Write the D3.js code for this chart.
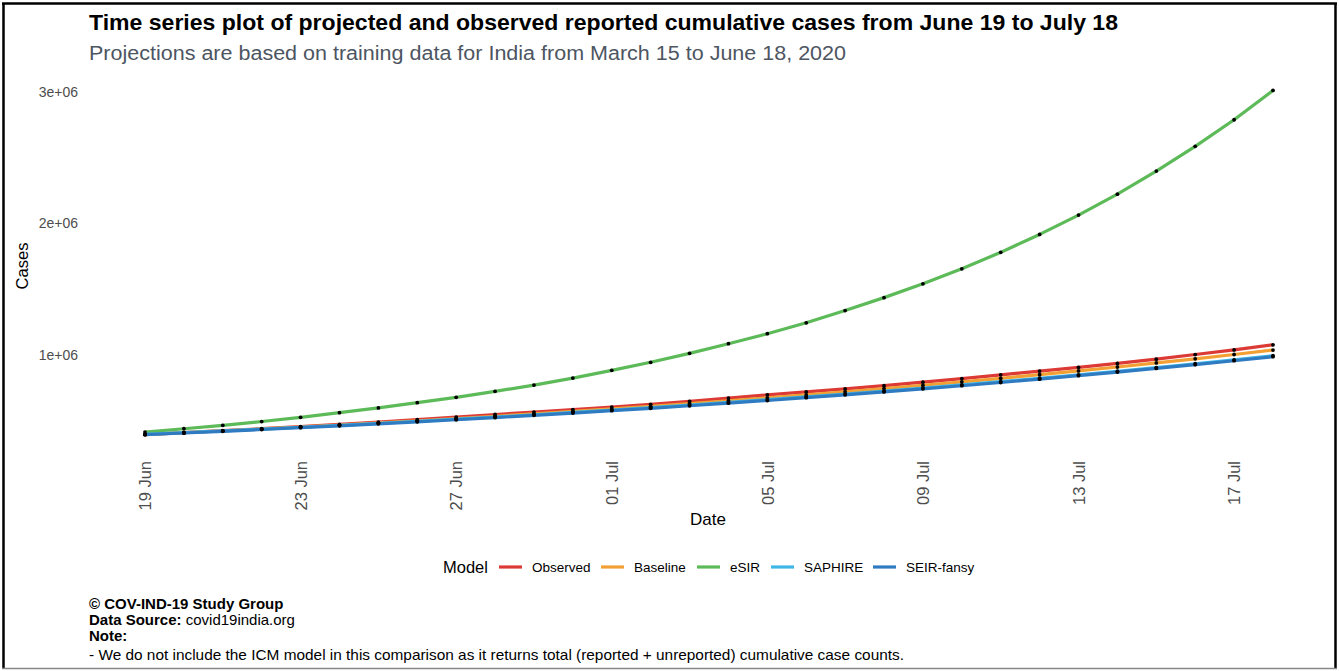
<!DOCTYPE html>
<html>
<head>
<meta charset="utf-8">
<script src="https://cdn.jsdelivr.net/npm/d3@7"></script>
<style>
  html, body { margin: 0; padding: 0; background: #fff; }
  svg { display: block; font-family: "Liberation Sans", Arial, Helvetica, sans-serif; }
</style>
</head>
<body>
<svg id="chart" width="1339" height="671"></svg>
<script>
// ---- Data ----
const startDate = "2020-06-19";
const nDays = 30;
const models = ["Observed", "Baseline", "eSIR", "SAPHIRE", "SEIR-fansy"];
const colors = ["#DC3A35", "#F2A033", "#5DBA58", "#3EB6E6", "#2F7BC2"];

const observed = [395812, 410451, 425282, 440450, 456183, 473105, 490401, 508953, 528859, 548318,
  566840, 585481, 604641, 625544, 648315, 673165, 697413, 719664, 742417, 767296,
  793802, 820916, 849553, 878254, 906752, 936181, 968857, 1003832, 1038716, 1077781];
const baseline = [397000, 410400, 424200, 438500, 453300, 468600, 484400, 500700, 517600, 535000,
  553000, 571700, 590900, 610800, 631400, 652700, 674700, 697400, 720900, 745200,
  770300, 796300, 823100, 850800, 879500, 909100, 939800, 971400, 1004200, 1038000];
const esir = [415000, 440000, 466000, 495000, 527000, 562000, 598000, 638000, 679000, 724000,
  772000, 825000, 884000, 945000, 1013000, 1086000, 1162000, 1245000, 1338000, 1436000,
  1541000, 1655000, 1780000, 1916000, 2063000, 2222000, 2397000, 2585000, 2787000, 3010000];
const saphire = [397000, 410000, 423500, 437400, 451700, 466300, 481500, 497000, 513000, 529500,
  546600, 564200, 582300, 601000, 620300, 640200, 660700, 681900, 703700, 726200,
  749400, 773400, 798100, 823600, 849900, 877000, 905000, 933900, 963700, 994500];
const seirfansy = [395000, 407700, 420800, 434300, 448200, 462600, 477500, 492800, 508600, 524900,
  541800, 559200, 577100, 595600, 614700, 634500, 654800, 675900, 697600, 719900,
  743000, 766900, 791500, 816900, 843200, 870200, 898200, 927000, 956800, 987500];
const seriesValues = [observed, baseline, esir, saphire, seirfansy];

const yTicks = [1e6, 2e6, 3e6];
const yTickLabels = ["1e+06", "2e+06", "3e+06"];
const xTickDays = [0, 4, 8, 12, 16, 20, 24, 28];

const titleText = "Time series plot of projected and observed reported cumulative cases from June 19 to July 18";
const subtitleText = "Projections are based on training data for India from March 15 to June 18, 2020";

// ---- Setup ----
const svg = d3.select("#chart");
const parse = d3.utcParse("%Y-%m-%d");
const d0 = parse(startDate);
const dates = d3.range(nDays).map(i => d3.utcDay.offset(d0, i));

const x = d3.scaleUtc().domain([dates[0], dates[nDays - 1]]).range([145, 1273]);
const y = d3.scaleLinear().domain([0, 3e6]).range([486.7, 91.7]);

// Frame
svg.append("line").attr("x1", 3.5).attr("y1", 3).attr("x2", 3.5).attr("y2", 669).attr("stroke", "#000").attr("stroke-width", 2.5);
svg.append("line").attr("x1", 2).attr("y1", 3.5).attr("x2", 1337).attr("y2", 3.5).attr("stroke", "#000").attr("stroke-width", 2.5);
svg.append("line").attr("x1", 1335.5).attr("y1", 3).attr("x2", 1335.5).attr("y2", 669).attr("stroke", "#000").attr("stroke-width", 2.5);
svg.append("line").attr("x1", 2).attr("y1", 668.5).attr("x2", 1337).attr("y2", 668.5).attr("stroke", "#888").attr("stroke-width", 1.5);

// Titles
svg.append("text").attr("x", 89).attr("y", 30).attr("font-size", 21.5).attr("font-weight", "bold").attr("fill", "#000")
  .attr("textLength", 1029).attr("lengthAdjust", "spacingAndGlyphs").text(titleText);
svg.append("text").attr("x", 89).attr("y", 60).attr("font-size", 20).attr("fill", "#4d5562")
  .attr("textLength", 757).attr("lengthAdjust", "spacingAndGlyphs").text(subtitleText);

// Y axis
const yAxis = d3.axisLeft(y).tickValues(yTicks).tickFormat((d, i) => yTickLabels[i]).tickSize(0).tickPadding(0);
const gy = svg.append("g").attr("transform", "translate(78,0)").call(yAxis);
gy.select(".domain").remove();
gy.selectAll("text").attr("font-size", 14).attr("fill", "#4d4d4d").attr("font-family", "Liberation Sans, Arial, sans-serif");

svg.append("text").attr("transform", "translate(28,266) rotate(-90)").attr("text-anchor", "middle")
  .attr("font-size", 16.5).attr("fill", "#000").text("Cases");

// X axis
const xAxis = d3.axisBottom(x).tickValues(xTickDays.map(i => dates[i])).tickFormat(d3.utcFormat("%d %b")).tickSize(0).tickPadding(0);
const gx = svg.append("g").attr("transform", "translate(0,461)").call(xAxis);
gx.select(".domain").remove();
gx.selectAll("text").attr("font-size", 16.5).attr("fill", "#4d4d4d").attr("font-family", "Liberation Sans, Arial, sans-serif")
  .attr("transform", "rotate(-90)").attr("text-anchor", "end").attr("dy", "0.35em").attr("x", 0).attr("y", 0);

svg.append("text").attr("x", 708).attr("y", 525).attr("text-anchor", "middle").attr("font-size", 17).attr("fill", "#000").text("Date");

// Lines
const line = d3.line().x((d, i) => x(dates[i])).y(d => y(d));
seriesValues.forEach((vals, k) => {
  svg.append("path").datum(vals).attr("d", line).attr("fill", "none")
    .attr("stroke", colors[k]).attr("stroke-width", 3.2).attr("stroke-linejoin", "round");
});
seriesValues.forEach((vals, k) => {
  svg.append("g").selectAll("circle").data(vals).join("circle")
    .attr("cx", (d, i) => x(dates[i])).attr("cy", d => y(d)).attr("r", 1.9).attr("fill", "#000");
});

// Legend
const leg = svg.append("g");
leg.append("text").attr("x", 443).attr("y", 573).attr("font-size", 16.5).attr("fill", "#000").text("Model");
const legKeyX = [499, 601, 697, 771, 873];
models.forEach((m, k) => {
  leg.append("line").attr("x1", legKeyX[k]).attr("x2", legKeyX[k] + 23).attr("y1", 567).attr("y2", 567)
    .attr("stroke", colors[k]).attr("stroke-width", 3.2);
  leg.append("text").attr("x", legKeyX[k] + 33).attr("y", 572).attr("font-size", 13.5).attr("fill", "#000").text(m);
});

// Footer
const f = svg.append("g").attr("font-size", 15).attr("fill", "#000");
f.append("text").attr("x", 89).attr("y", 609).attr("font-weight", "bold").text("© COV-IND-19 Study Group");
const ds = f.append("text").attr("x", 89).attr("y", 625);
ds.append("tspan").attr("font-weight", "bold").text("Data Source: ");
ds.append("tspan").text("covid19india.org");
f.append("text").attr("x", 89).attr("y", 641).attr("font-weight", "bold").text("Note:");
f.append("text").attr("x", 89).attr("y", 660).attr("textLength", 815).attr("lengthAdjust", "spacingAndGlyphs")
  .text("- We do not include the ICM model in this comparison as it returns total (reported + unreported) cumulative case counts.");
</script>
</body>
</html>
